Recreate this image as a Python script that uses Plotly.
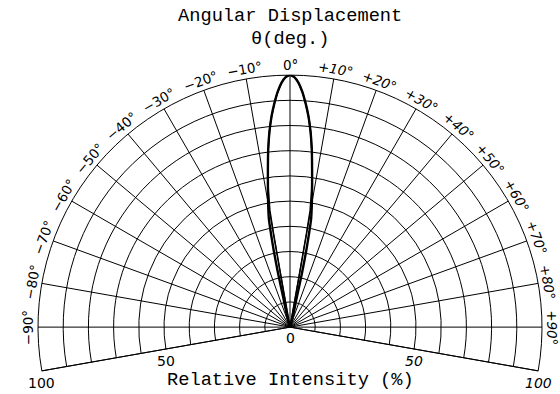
import numpy as np
import plotly.graph_objects as go

# radiation pattern (angle in deg, relative intensity in %)
theta_outer = [-13, -12.8, -12.5, -12, -11.5, -11, -10, -9, -8, -7, -6, -5, -4, -3, -2, -1, 0,
               1, 2, 3, 4, 5, 6, 7, 8, 9, 10, 11, 11.5, 12, 12.5, 12.8, 13]
r_outer = [0, 12, 22, 31, 38, 44, 50, 56, 63, 71, 78, 84, 89, 93.5, 97, 99.2, 100,
           99.2, 97, 93.5, 89, 84, 78, 71, 63, 56, 50, 44, 38, 31, 22, 12, 0]

theta_inner = [-10.2, -10.2, -10.1, -10, -9.8, -9, -8, -7, -6, -5, -4, -3, -2, -1, 0,
               1, 2, 3, 4, 5, 6, 7, 8, 9, 9.8, 10, 10.1, 10.2, 10.2]
r_inner = [0, 11, 24, 38, 47, 55, 63, 71, 78, 84, 89, 93.5, 97, 99.2, 100,
           99.2, 97, 93.5, 89, 84, 78, 71, 63, 55, 47, 38, 24, 11, 0]

ang_ticks = list(range(-90, 91, 10))
ang_labels = ["\u221290\u00b0", "\u221280\u00b0", "\u221270\u00b0", "\u221260\u00b0", "\u221250\u00b0",
              "\u221240\u00b0", "\u221230\u00b0", "\u221220\u00b0", "\u221210\u00b0", "0\u00b0",
              "+10\u00b0", "+20\u00b0", "+30\u00b0", "+40\u00b0", "+50\u00b0",
              "+60\u00b0", "+70\u00b0", "+80\u00b0", "+90\u00b0"]
rad_ticks = [50, 100]
rad_labels = ["50", "100"]

fig = go.Figure()
fig.add_trace(go.Scatterpolar(r=r_outer, theta=theta_outer, mode="lines",
                              line=dict(color="black", width=2.4, shape="spline", smoothing=0.6),
                              showlegend=False))
fig.add_trace(go.Scatterpolar(r=r_inner, theta=theta_inner, mode="lines",
                              line=dict(color="black", width=1.6), showlegend=False))

fig.update_layout(
    width=560, height=394,
    margin=dict(l=38, r=18, t=75, b=23),
    paper_bgcolor="white",
    polar=dict(
        sector=[-10, 190],
        bgcolor="white",
        angularaxis=dict(rotation=90, direction="clockwise",
                         tickmode="array", tickvals=list(range(-100, 101, 10)),
                         showticklabels=False, ticks="",
                         showline=True, linecolor="black", linewidth=1,
                         gridcolor="black", gridwidth=1),
        radialaxis=dict(range=[0, 100], tickmode="array", tickvals=list(range(10, 101, 10)),
                        showticklabels=False, ticks="", showline=False,
                        gridcolor="black", gridwidth=1),
    ),
)

# paper coordinates of the sector: centre and radius
s = np.sin(np.radians(10))
cy = s / (1 + s)
ry = 1 / (1 + s)

lab_font = "DejaVu Sans"
for t, lab in zip(ang_ticks, ang_labels):
    k = 1.04
    a = np.radians(t)
    fig.add_annotation(x=0.5 + 0.5 * k * np.sin(a), y=cy + ry * k * np.cos(a),
                       xref="paper", yref="paper", text=lab if t <= 0 else "<i>" + lab + "</i>",
                       showarrow=False, textangle=t, xanchor="center", yanchor="middle",
                       font=dict(family=lab_font, size=13.5, color="black"))

for side in (-1, 1):
    a = np.radians(100 * side)
    for r, lab in zip(rad_ticks, rad_labels):
        fig.add_annotation(x=0.5 + 0.5 * r / 100 * np.sin(a), y=cy + ry * r / 100 * np.cos(a),
                           xref="paper", yref="paper", yshift=-12,
                           text=lab if side < 0 else "<i>" + lab + "</i>",
                           showarrow=False, xanchor="center", yanchor="middle",
                           font=dict(family=lab_font, size=14, color="black"))
fig.add_annotation(x=0.5, y=cy, xref="paper", yref="paper", yshift=-11, text="0",
                   showarrow=False, xanchor="center", yanchor="middle",
                   font=dict(family=lab_font, size=14, color="black"))

title_font = dict(family="Liberation Mono", size=18.7, color="black")
fig.add_annotation(x=0.5, y=1.199, xref="paper", yref="paper", text="Angular Displacement",
                   showarrow=False, xanchor="center", yanchor="middle", font=title_font)
fig.add_annotation(x=0.5, y=1.122, xref="paper", yref="paper", text="\u03b8(deg.)",
                   showarrow=False, xanchor="center", yanchor="middle", font=title_font)
fig.add_annotation(x=0.5, y=-0.03, xref="paper", yref="paper", text="Relative Intensity (%)",
                   showarrow=False, xanchor="center", yanchor="middle", font=title_font)

# drop the default body margin so the 560x394 figure fills the window exactly
fig.write_html("out.html", config={"displayModeBar": False},
               post_script="document.body.style.margin='0';document.body.style.overflow='hidden';")
